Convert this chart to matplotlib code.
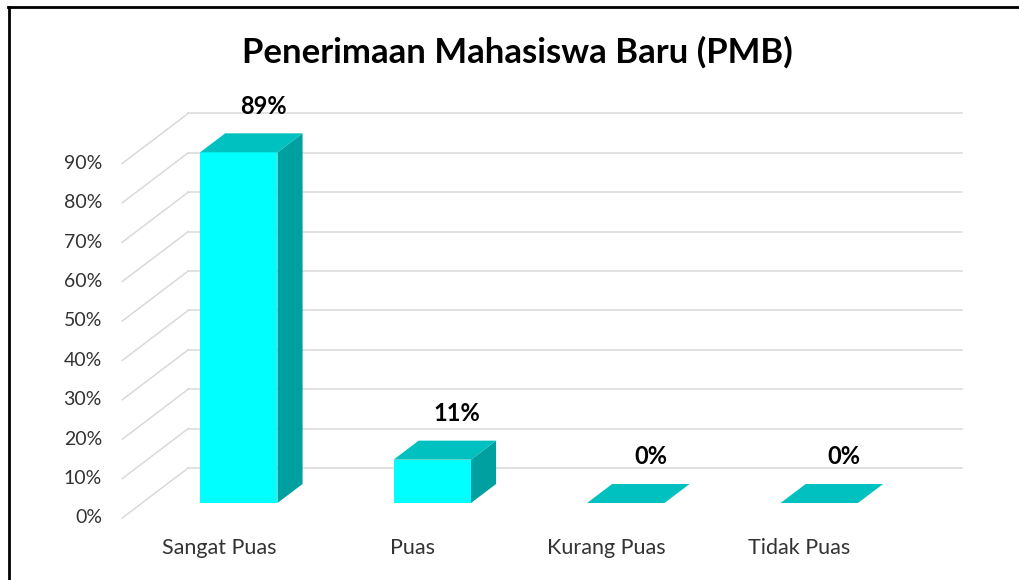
import matplotlib.pyplot as plt
from matplotlib.patches import Polygon
from matplotlib.lines import Line2D

# data
categories = ["Sangat Puas", "Puas", "Kurang Puas", "Tidak Puas"]
values = [89, 11, 0, 0]
value_labels = ["89%", "11%", "0%", "0%"]
yticks = list(range(0, 100, 10))
ytick_labels = [f"{t}%" for t in yticks]
title = "Penerimaan Mahasiswa Baru (PMB)"

# fake 3d: depth offset in data units (x in category units, y in %)
DX = 0.341
DY = 12.69
bar_w = 0.40
bar_front = 0.30   # depth where the bar front face sits
bar_depth = 0.38

front_col = "#00FFFF"
top_col = "#00C0C0"
side_col = "#00A0A0"
grid_col = "#D9D9D9"
font = "Lato"

fig = plt.figure(figsize=(10.2, 5.8), dpi=100)
ax = fig.add_axes([0, 0, 1, 1])
ax.set_xlim(-1.1318, 4.1395)
ax.set_ylim(-15.74, 131.47)
ax.axis("off")

x0, x1 = -0.5, len(categories) - 0.5

# gridlines: diagonal on the side wall + horizontal on the back wall
for t in yticks:
    ax.plot([x0, x0 + DX], [t, t + DY], color=grid_col, lw=1.1, zorder=1)
    ax.plot([x0 + DX, x1 + DX], [t + DY, t + DY], color=grid_col, lw=1.1, zorder=1)

for t, lab in zip(yticks, ytick_labels):
    ax.text(-0.605, t, lab, ha="right", va="center", fontsize=14,
            family=font, color="#333333")

# bars
for i, (v, lab) in enumerate(zip(values, value_labels)):
    fx = i - bar_w / 2 + bar_front * DX
    fy = bar_front * DY
    bx, by = bar_depth * DX, bar_depth * DY
    if v > 0:
        ax.add_patch(Polygon([(fx, fy), (fx + bar_w, fy), (fx + bar_w, fy + v), (fx, fy + v)],
                             closed=True, fc=front_col, ec="none", zorder=3))
        ax.add_patch(Polygon([(fx + bar_w, fy), (fx + bar_w + bx, fy + by),
                              (fx + bar_w + bx, fy + by + v), (fx + bar_w, fy + v)],
                             closed=True, fc=side_col, ec="none", zorder=3))
    ax.add_patch(Polygon([(fx, fy + v), (fx + bar_w, fy + v),
                          (fx + bar_w + bx, fy + by + v), (fx + bx, fy + by + v)],
                         closed=True, fc=top_col, ec="none", zorder=3))
    ax.text(i + 0.23, v + 15.5, lab, ha="center", va="center", fontsize=17,
            fontweight="bold", family=font, color="black")
    ax.text(i, -7.6, categories[i], ha="center", va="center", fontsize=15.5,
            family=font, color="#333333")

fig.text(0.507, 1 - 52 / 580, title, ha="center", va="center", fontsize=25,
         fontweight="bold", family=font, color="black")

# frame (top and left only visible)
fig.add_artist(Line2D([8 / 1020, 1], [1 - 7 / 580, 1 - 7 / 580], color="black", lw=2))
fig.add_artist(Line2D([9 / 1020, 9 / 1020], [0, 1 - 7 / 580], color="black", lw=2))

fig.savefig("out.png", dpi=100)
